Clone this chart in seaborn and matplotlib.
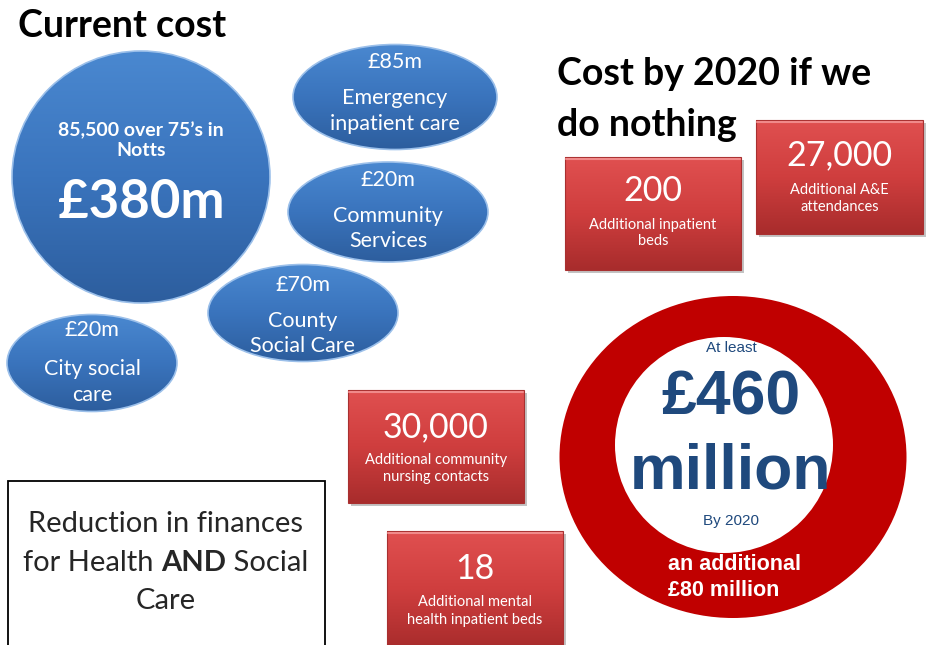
import numpy as np
import seaborn as sns
import matplotlib
matplotlib.use("Agg")
import matplotlib.pyplot as plt
from matplotlib.patches import Ellipse, Rectangle
from matplotlib.colors import LinearSegmentedColormap

sns.set_theme(style="white")
plt.rcParams['font.family'] = ['Lato', 'DejaVu Sans']

# --- content ---
total_label = ["85,500 over 75\u2019s in", "Notts"]
total_value = "£380m"
blue_values = ["£85m", "£20m", "£70m", "£20m"]
blue_labels = [["Emergency", "inpatient care"], ["Community", "Services"],
               ["County", "Social Care"], ["City social", "care"]]
red_values = ["200", "27,000", "30,000", "18"]
red_labels = [["Additional inpatient", "beds"], ["Additional A&E", "attendances"],
              ["Additional community", "nursing contacts"],
              ["Additional mental", "health inpatient beds"]]
ring_lines = ["At least", "£460", "million", "By 2020"]
extra_lines = ["an additional", "£80 million"]

# --- layout (pixel coords, y down) ---
blue_geom = [(395, 97, 204, 105), (388, 212, 200, 100), (303, 313, 190, 97), (92, 363, 170, 97)]
blue_text_y = [(62, 98, 124), (180, 216, 241), (285, 321, 346), (330, 369, 395)]
red_geom = [(565, 157, 741, 270), (756, 120, 923, 234), (348, 390, 524, 503), (387, 531, 563, 648)]
red_text_y = [(191, 225, 241), (155, 190, 207), (427, 460, 477), (569, 602, 620)]

W, H = 926, 645
fig = plt.figure(figsize=(W / 100, H / 100), dpi=100)
ax = fig.add_axes([0, 0, 1, 1])
ax.set_axis_off()

blue_cmap = LinearSegmentedColormap.from_list("b", ["#4a88d0", "#3a74bd", "#2d5e9e"])
red_cmap = LinearSegmentedColormap.from_list("r", ["#e05050", "#cf3e3e", "#a82c2c"])
grad = np.linspace(0, 1, 200).reshape(-1, 1)


def shade(patch, extent, cmap, z):
    ax.add_patch(patch)
    im = ax.imshow(grad, extent=extent, cmap=cmap, aspect="auto", origin="upper", zorder=z)
    im.set_clip_path(patch)


# big circle
cx, cy, cw, ch = 141, 177, 258, 252
shade(Ellipse((cx, cy), cw, ch, facecolor="#3a74bd", lw=0, zorder=2),
      (cx - cw / 2, cx + cw / 2, cy + ch / 2, cy - ch / 2), blue_cmap, 2)
ax.add_patch(Ellipse((cx, cy), cw, ch, facecolor="none", edgecolor="#9cc0ea", lw=1.2, zorder=3))
ax.text(cx, 130, total_label[0], color="white", fontsize=14, fontweight="bold", ha="center", va="center", zorder=5)
ax.text(cx, 151, total_label[1], color="white", fontsize=14, fontweight="bold", ha="center", va="center", zorder=5)
ax.text(cx, 203, total_value, color="white", fontsize=38, fontweight="bold", ha="center", va="center", zorder=5)

# blue ellipses
for (x, y, w, h), val, lab, ty in zip(blue_geom, blue_values, blue_labels, blue_text_y):
    shade(Ellipse((x, y), w, h, facecolor="#3a74bd", lw=0, zorder=2),
          (x - w / 2, x + w / 2, y + h / 2, y - h / 2), blue_cmap, 2)
    ax.add_patch(Ellipse((x, y), w, h, facecolor="none", edgecolor="#9cc0ea", lw=1.2, zorder=3))
    ax.text(x, ty[0], val, color="white", fontsize=15.5, ha="center", va="center", zorder=5)
    ax.text(x, ty[1], lab[0], color="white", fontsize=15.5, ha="center", va="center", zorder=5)
    ax.text(x, ty[2], lab[1], color="white", fontsize=15.5, ha="center", va="center", zorder=5)

# red boxes
for (x0, y0, x1, y1), val, lab, ty in zip(red_geom, red_values, red_labels, red_text_y):
    ax.add_patch(Rectangle((x0 + 3, y0 + 3), x1 - x0, y1 - y0, facecolor="#555555", alpha=0.35, lw=0, zorder=1))
    shade(Rectangle((x0, y0), x1 - x0, y1 - y0, facecolor="#cf3e3e", lw=0, zorder=2),
          (x0, x1, y1, y0), red_cmap, 2)
    ax.add_patch(Rectangle((x0, y0), x1 - x0, y1 - y0, facecolor="none", edgecolor="#a83030", lw=0.8, zorder=3))
    ax.plot([x0 + 1, x1 - 1], [y0 + 1.5, y0 + 1.5], color="#f08a8a", lw=1.5, zorder=3)
    xm = (x0 + x1) / 2
    ax.text(xm, ty[0], val, color="white", fontsize=24.5, ha="center", va="center", zorder=5)
    ax.text(xm, ty[1], lab[0], color="white", fontsize=10.5, ha="center", va="center", zorder=5)
    ax.text(xm, ty[2], lab[1], color="white", fontsize=10.5, ha="center", va="center", zorder=5)

# ring
ax.add_patch(Ellipse((733, 457), 347, 322, facecolor="#c00000", lw=0, zorder=2))
ax.add_patch(Ellipse((724, 445), 218, 216, facecolor="white", lw=0, zorder=3))
navy = "#1f497d"
ax.text(731, 348, ring_lines[0], color=navy, fontsize=11, family="Liberation Sans", ha="center", va="center", zorder=5)
ax.text(731, 398, ring_lines[1], color=navy, fontsize=45, fontweight="bold", family="Liberation Sans", ha="center", va="center", zorder=5)
ax.text(731, 472, ring_lines[2], color=navy, fontsize=45, fontweight="bold", family="Liberation Sans", ha="center", va="center", zorder=5)
ax.text(731, 521, ring_lines[3], color=navy, fontsize=11, family="Liberation Sans", ha="center", va="center", zorder=5)
ax.text(668, 565, extra_lines[0], color="white", fontsize=15.5, fontweight="bold", family="Liberation Sans", ha="left", va="center", zorder=5)
ax.text(668, 591, extra_lines[1], color="white", fontsize=15.5, fontweight="bold", family="Liberation Sans", ha="left", va="center", zorder=5)

# titles
ax.text(18, 26, "Current cost", fontsize=27, fontweight="bold", color="black", ha="left", va="center", zorder=5)
ax.text(557, 74, "Cost by 2020 if we", fontsize=27, fontweight="bold", color="black", ha="left", va="center", zorder=5)
ax.text(557, 125, "do nothing", fontsize=27, fontweight="bold", color="black", ha="left", va="center", zorder=5)

# note box
ax.add_patch(Rectangle((8, 481), 317, 170, facecolor="white", edgecolor="black", lw=1.3, zorder=2))
note_col = "#262626"
ax.set_xlim(0, W)
ax.set_ylim(H, 0)
ax.text(166, 524, "Reduction in finances", fontsize=21, color=note_col, ha="center", va="center", zorder=5)
ax.text(166, 601, "Care", fontsize=21, color=note_col, ha="center", va="center", zorder=5)
parts = [("for Health ", "normal"), ("AND", "bold"), (" Social", "normal")]
r = fig.canvas.get_renderer()
objs = []
for s, wt in parts:
    t = ax.text(0, 563, s, fontsize=21, fontweight=wt, color=note_col, ha="left", va="center", zorder=5)
    objs.append(t)
widths = [t.get_window_extent(r).width for t in objs]
x = 166 - sum(widths) / 2
for t, wd in zip(objs, widths):
    t.set_x(x)
    x += wd

ax.set_xlim(0, W)
ax.set_ylim(H, 0)
fig.savefig("out.png", dpi=100)
